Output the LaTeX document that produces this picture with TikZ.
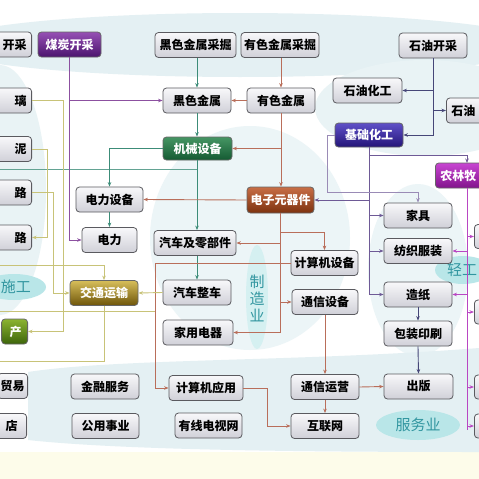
\documentclass[tikz,border=0pt]{standalone}
\usepackage{fontspec}
\newfontfamily\cjk{Noto Sans CJK SC}
\usetikzlibrary{arrows.meta}
\definecolor{boxtop}{RGB}{248,248,250}
\definecolor{boxbot}{RGB}{208,208,216}
\definecolor{boxline}{RGB}{90,90,95}
\definecolor{bandc}{RGB}{228,240,243}
\definecolor{labc}{RGB}{50,150,160}
\definecolor{labfill}{RGB}{185,230,232}
\definecolor{purp}{RGB}{140,80,160}
\definecolor{tealc}{RGB}{60,140,120}
\definecolor{brownc}{RGB}{185,110,90}
\definecolor{navy}{RGB}{70,70,120}
\definecolor{bpurp}{RGB}{110,90,150}
\definecolor{magc}{RGB}{185,70,195}
\definecolor{olive}{RGB}{200,195,120}
\definecolor{paley}{RGB}{253,252,234}
\tikzset{
  box/.style={draw=boxline, line width=0.8pt, rounded corners=3.5pt, top color=boxtop, bottom color=boxbot,
    font=\cjk\bfseries\fontsize{12}{12}\selectfont, minimum height=25pt, inner sep=0pt, text=black},
  hdr/.style={box, text=white, draw=black!60},
  lpart/.style={box, anchor=east, text width=50pt, align=right, minimum width=60pt},
  rpart/.style={box, anchor=west, text width=50pt, align=left, minimum width=60pt},
  lab/.style={font=\cjk\fontsize{15}{17}\selectfont, text=labc},
  con/.style={line width=0.9pt, -{Stealth[length=4.5pt,width=3.5pt]}},
  seg/.style={line width=0.9pt}
}
\begin{document}
\begin{tikzpicture}[x=1pt,y=-1pt]
\useasboundingbox (0,0) rectangle (479,479);
\clip (0,0) rectangle (479,479);
% backgrounds
\fill[white] (0,0) rectangle (479,479);
\fill[paley] (0,452) rectangle (479,479);
\fill[bandc] (240,45) ellipse [x radius=300, y radius=32];
\fill[bandc!80] (425,108) ellipse [x radius=110, y radius=48];
\fill[bandc!80] (0,190) ellipse [x radius=46, y radius=125];
\fill[bandc!70] (250,238) ellipse [x radius=100, y radius=112];
\fill[bandc!70] (418,270) ellipse [x radius=50, y radius=86];
\fill[bandc] (28,372) .. controls (120,358) and (300,362) .. (479,348) -- (479,452) .. controls (300,452) and (120,450) .. (28,440) -- cycle;
% labels
\fill[labfill] (14,287) ellipse [x radius=32, y radius=13];
\node[lab] (lshigong) at (16,287) {施工};
\fill[labfill!60] (257,297) ellipse [x radius=11, y radius=52];
\node[lab, align=center, inner sep=0pt] (lzhizao) at (257,298) {制\\造\\业};
\fill[labfill] (463,270) ellipse [x radius=28, y radius=14];
\node[lab] (lqinggong) at (462,270) {轻工};
\fill[labfill] (418,425) ellipse [x radius=42, y radius=15];
\node[lab] (lfuwu) at (418,425) {服务业};
% background-level faint connectors
\coordinate (tl1) at (197.5,169);
\coordinate (tl2) at (0,169);
\draw[seg, tealc!80] (tl1) -- (tl2);
\coordinate (ol6) at (0,311);
\coordinate (ol7) at (155,311);
\draw[seg, olive] (ol6) -- (ol7);
% nodes
\node[lpart] (kaicai) at (32,44.5) {开采};
\node[hdr, minimum width=63pt, top color={rgb,255:red,150;green,80;blue,180}, bottom color={rgb,255:red,75;green,20;blue,110}] (meitan) at (69.5,44.5) {煤炭开采};
\node[box, minimum width=81pt] (heisecj) at (195.5,45) {黑色金属采掘};
\node[box, minimum width=78pt] (yousecj) at (280,45) {有色金属采掘};
\node[box, minimum width=68pt] (shiyoukc) at (433,45.5) {石油开采};
\node[box, minimum width=68pt] (heise) at (197,100.5) {黑色金属};
\node[box, minimum width=68pt] (youse) at (281,100.5) {有色金属};
\node[box, minimum width=69pt] (shihua) at (367.5,90.5) {石油化工};
\node[rpart] (shiyou2) at (446,110.5) {石油};
\node[lpart] (li) at (32,100.5) {璃};
\node[hdr, minimum width=69pt, minimum height=23pt, top color={rgb,255:red,70;green,150;blue,100}, bottom color={rgb,255:red,20;green,90;blue,50}] (jixie) at (197.5,148.5) {机械设备};
\node[hdr, minimum width=68pt, minimum height=24pt, top color={rgb,255:red,95;green,80;blue,200}, bottom color={rgb,255:red,35;green,20;blue,120}] (jichu) at (369,135) {基础化工};
\node[lpart] (ni) at (32,149) {泥};
\node[hdr, anchor=west, text width=50pt, align=left, minimum width=60pt, top color={rgb,255:red,200;green,70;blue,210}, bottom color={rgb,255:red,130;green,20;blue,140}] (nonglin) at (435,175.5) {农林牧};
\node[box, minimum width=67pt] (dianlisb) at (109.5,199.5) {电力设备};
\node[hdr, minimum width=67pt, minimum height=26pt, top color={rgb,255:red,200;green,110;blue,70}, bottom color={rgb,255:red,125;green,50;blue,15}] (dianzi) at (280.5,200) {电子元器件};
\node[lpart] (lu1) at (32,192.5) {路};
\node[box, minimum width=68pt] (jiaju) at (418,215.5) {家具};
\node[box, minimum width=55pt] (dianli) at (109.5,240) {电力};
\node[box, minimum width=82pt] (qichelbj) at (195,243) {汽车及零部件};
\node[lpart] (lu2) at (32,237.5) {路};
\node[box, minimum width=68pt] (fangzhi) at (418,251) {纺织服装};
\node[box, minimum width=67pt] (jsjsb) at (324.5,263) {计算机设备};
\node[box, minimum width=68pt] (qichezc) at (197,292.5) {汽车整车};
\node[hdr, minimum width=68pt, top color={rgb,255:red,215;green,190;blue,90}, bottom color={rgb,255:red,110;green,85;blue,10}] (jiaotong) at (104,293) {交通运输};
\node[box, minimum width=68pt] (zaozhi) at (418,294.5) {造纸};
\node[box, minimum width=66pt] (txsb) at (325,302) {通信设备};
\node[hdr, anchor=east, text width=14pt, align=right, inner xsep=6pt, top color={rgb,255:red,140;green,180;blue,50}, bottom color={rgb,255:red,60;green,100;blue,10}] (chan) at (28,331.5) {产};
\node[box, minimum width=70pt] (jiayong) at (198,332.5) {家用电器};
\node[box, minimum width=68pt] (baozhuang) at (418,333.5) {包装印刷};
\node[box, anchor=east, text width=24pt, align=right, inner xsep=3pt] (maoyi) at (28,386) {贸易};
\node[box, minimum width=68pt] (jinrong) at (105,386.5) {金融服务};
\node[box, minimum width=74pt] (jsjyy) at (206,388) {计算机应用};
\node[box, minimum width=68pt] (txyy) at (325,387) {通信运营};
\node[box, minimum width=69pt] (chuban) at (418.5,386.5) {出版};
\node[box, anchor=east, text width=12pt, align=right, inner xsep=9pt] (dian) at (27,426) {店};
\node[box, minimum width=67pt] (gongyong) at (105.5,426) {公用事业};
\node[box, minimum width=67pt] (youxian) at (208.5,425.5) {有线电视网};
\node[box, minimum width=68pt] (hulian) at (325,426) {互联网};
\node[box, anchor=west, minimum width=40pt, minimum height=24pt] (r1) at (474,236.5) {};
\node[box, anchor=west, minimum width=40pt, minimum height=24pt] (r2) at (474,312) {};
\node[box, anchor=west, minimum width=40pt, minimum height=24pt] (r3) at (474,387) {};
\node[box, anchor=west, minimum width=40pt, minimum height=24pt] (r4) at (474,426) {};
% connectors: coal
\draw[con, purp] (meitan.south) |- (heise.west);
\draw[con, purp] (meitan.south) |- (dianli.west);
% metals
\draw[con, tealc] (heisecj.south -| heise.north) -- (heise.north);
\draw[con, brownc] (yousecj.south -| youse.north) -- (youse.north);
\draw[con, brownc] (youse.west) -- (heise.east);
\draw[con, tealc] (heise.south) -- (heise.south |- jixie.north);
\draw[con, brownc] (youse.south) |- (jixie.east);
\draw[con, brownc] (youse.south) -- (youse.south |- dianzi.north);
% machinery
\draw[con, tealc] (jixie.west) -| (dianlisb.north);
\draw[con, tealc] (dianlisb.south) -- (dianli.north);
\draw[con, tealc] (jixie.south -| heise.south) -- (heise.south |- qichelbj.north);
\draw[con, tealc] (qichelbj.south -| qichezc.north) -- (qichezc.north);
% electronics
\draw[con, brownc] (dianzi.west) -- (dianlisb.east);
\coordinate (dz1) at (280.5,232);
\draw[con, brownc] (dianzi.south) -- (dz1) -| (jsjsb.north);
\draw[con, brownc] (dianzi.south) |- (qichelbj.east);
\draw[con, brownc] (dianzi.south) |- (txsb.west);
\draw[con, brownc] (dianzi.south) |- (jiayong.east);
\coordinate (cj1) at (155,263);
\draw[con, brownc] (jsjsb.west) -- (cj1) |- (jsjyy.west);
\coordinate (cj2) at (267,388);
\draw[con, brownc] (jsjyy.east) -- (cj2) |- (hulian.west);
\draw[con, brownc] (txsb.south) -- (txyy.north);
\draw[con, brownc] (txyy.south) -- (hulian.north);
\draw[con, brownc] (txyy.east) -- (chuban.west);
% petroleum
\draw[con, navy] (shiyoukc.south) |- (shihua.east);
\draw[con, navy] (shiyoukc.south) |- (shiyou2.west);
\draw[con, navy] (shiyoukc.south) |- (jichu.east);
\coordinate (jc1) at (369,155);
\coordinate (ng1) at (467,163);
\draw[con, bpurp] (jichu.south) -- (jc1) -| (ng1);
\draw[con, bpurp] (jichu.south) |- (jiaju.west);
\draw[con, bpurp] (jichu.south) |- (fangzhi.west);
\draw[con, bpurp] (jichu.south) |- (zaozhi.west);
\draw[con, bpurp] (jichu.south) |- (dianzi.east);
\coordinate (jc2) at (327,135);
\coordinate (jc3) at (327,192);
\draw[con, bpurp!70] (jichu.west) -- (jc2) -- (jc3) -| (jiaju.north);
\draw[con, navy] (zaozhi.south) -- (baozhuang.north);
\draw[con, navy] (baozhuang.south) -- (chuban.north);
% agriculture
\coordinate (ng2) at (467,188);
\coordinate (ng3) at (467,430);
\draw[seg, magc] (ng2) -- (ng3);
\draw[con, magc] (ng2 |- fangzhi.east) -- (fangzhi.east);
\draw[con, magc] (ng2 |- zaozhi.east) -- (zaozhi.east);
\draw[con, magc] (ng2 |- r1.west) -- (r1.west);
\draw[con, magc] (ng2 |- r2.west) -- (r2.west);
\draw[con, magc] (ng2 |- r3.west) -- (r3.west);
\draw[con, magc] (ng2 |- r4.west) -- (r4.west);
% construction
\coordinate (ol1) at (63,100.5);
\draw[con, olive] (li.east) -- (ol1) |- (chan.east);
\coordinate (ol2) at (47,149);
\draw[con, olive] (ni.east) -- (ol2) |- (lu2.east);
\coordinate (ol3) at (53,192.5);
\draw[con, olive] (lu1.east) -- (ol3) |- (jiaotong.west);
\coordinate (ol4) at (0,265);
\draw[con, olive] (ol4) -| (jiaotong.north);
\draw[con, olive] (qichezc.west) -- (jiaotong.east);
\coordinate (ol5) at (0,361);
\draw[seg, olive] (jiaotong.south) |- (ol5);
\end{tikzpicture}
\end{document}
